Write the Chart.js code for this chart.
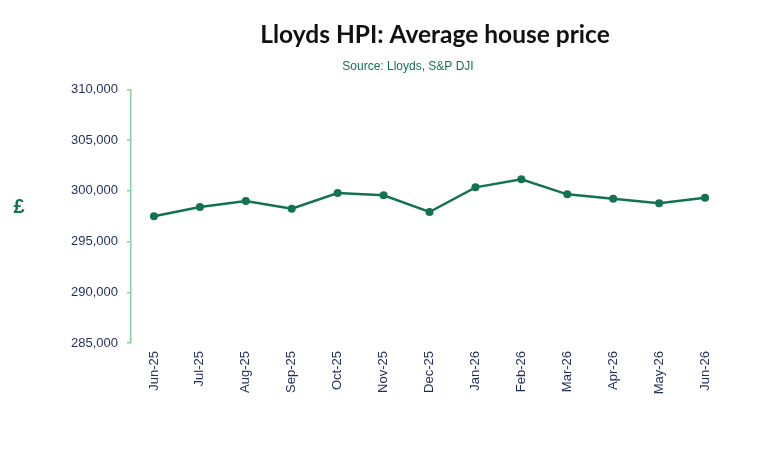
<!DOCTYPE html>
<html>
<head>
<meta charset="utf-8">
<script src="https://cdn.jsdelivr.net/npm/chart.js@4"></script>
<style>
html,body{margin:0;padding:0;background:#fff;}
#wrap{width:766px;height:452px;position:relative;}
</style>
</head>
<body>
<div id="wrap"><canvas id="c" width="766" height="452"></canvas></div>
<script>
const categories = ["Jun-25","Jul-25","Aug-25","Sep-25","Oct-25","Nov-25","Dec-25","Jan-26","Feb-26","Mar-26","Apr-26","May-26","Jun-26"];
const avgPrice = [297500, 298410, 299000, 298240, 299790, 299570, 297920, 300350, 301140, 299660, 299230, 298780, 299330];
const yTicks = [285000, 290000, 295000, 300000, 305000, 310000];
const titleText = "Lloyds HPI: Average house price";
const subtitleText = "Source: Lloyds, S&P DJI";
const axisLabel = "£";

const green = "#137350";
const axisGreen = "#86cfa6";
const navy = "#1f2d5c";

const textPlugin = {
  id: 'texts',
  afterDraw(chart) {
    const ctx = chart.ctx;
    ctx.save();
    ctx.textAlign = 'center';
    ctx.textBaseline = 'middle';
    ctx.fillStyle = '#111';
    ctx.font = 'bold 24.5px Lato';
    ctx.fillText(titleText, 435, 35);
    ctx.fillStyle = green;
    ctx.font = '12px "Liberation Sans Narrow", "Liberation Sans", Arial';
    ctx.fillText(subtitleText, 408, 67);
    ctx.font = 'bold 20px "Liberation Sans", Arial';
    ctx.fillStyle = green;
    ctx.fillText(axisLabel, 19, 207);
    ctx.restore();
  }
};

new Chart(document.getElementById('c'), {
  type: 'line',
  data: {
    labels: categories,
    datasets: [{
      data: avgPrice,
      borderColor: green,
      backgroundColor: green,
      borderWidth: 2.5,
      pointRadius: 4,
      pointHoverRadius: 4,
      pointBackgroundColor: green,
      pointBorderWidth: 0,
      tension: 0,
      fill: false
    }]
  },
  options: {
    responsive: false,
    animation: false,
    devicePixelRatio: 1,
    layout: { padding: { left: 0, right: 38, top: 89.5, bottom: 0 } },
    plugins: { legend: { display: false }, tooltip: { enabled: false } },
    scales: {
      x: {
        offset: true,
        grid: { display: false, drawTicks: false },
        border: { display: false },
        ticks: {
          color: navy,
          font: { family: '"Liberation Sans", Arial', size: 13 },
          minRotation: 90, maxRotation: 90,
          autoSkip: false,
          padding: 8
        },
        afterFit(scale) { scale.height = 109; }
      },
      y: {
        min: 285000, max: 310000,
        afterBuildTicks(scale) { scale.ticks = yTicks.map(v => ({ value: v })); },
        grid: { drawOnChartArea: false, drawTicks: true, tickLength: 4, color: axisGreen, lineWidth: 1.5 },
        border: { display: true, color: axisGreen, width: 1.5 },
        ticks: {
          color: navy,
          font: { family: '"Liberation Sans", Arial', size: 13 },
          padding: 9,
          callback: v => v.toLocaleString('en-US')
        },
        afterFit(scale) { scale.width = 131; }
      }
    }
  },
  plugins: [textPlugin]
});
</script>
</body>
</html>
